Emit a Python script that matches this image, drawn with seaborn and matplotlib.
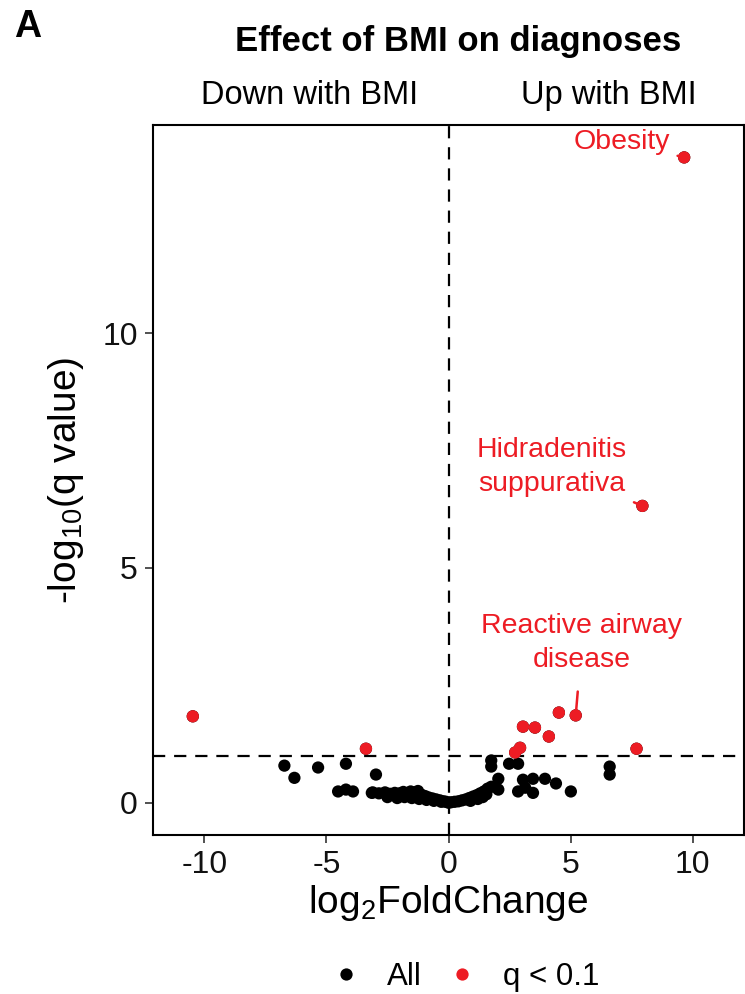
import numpy as np
import pandas as pd
import seaborn as sns
import matplotlib
matplotlib.use("Agg")
import matplotlib.pyplot as plt


# values
# non-significant diagnoses (log2FoldChange, -log10 q)
ns_x = [-6.72, -6.31, -5.34, -4.20, -2.97, -4.52, -4.20, -3.91, -3.14,
        -3.10, -2.85, -2.60, -2.40, -2.20, -2.00, -1.85, -1.70, -1.55, -1.40,
        -1.25, -1.10, -0.95, -0.80, -0.65, -0.50, -0.35, -0.20, -0.10,
        -2.50, -2.10, -1.80, -1.50, -1.20, -0.90, -0.60, -0.30, 0.00,
        0.10, 0.25, 0.40, 0.55, 0.70, 0.85, 1.00, 1.15, 1.30, 1.45, 1.60,
        0.90, 1.20, 1.40, 1.55,
        1.75, 2.04, 2.04, 1.75, 1.75, 2.48, 2.85, 2.85, 3.05, 3.14, 3.46,
        3.46, 3.95, 4.40, 5.01, 6.60, 6.60]
ns_y = [0.79, 0.53, 0.75, 0.83, 0.60, 0.24, 0.28, 0.24, 0.21,
        0.22, 0.20, 0.22, 0.19, 0.21, 0.20, 0.23, 0.18, 0.24, 0.22,
        0.25, 0.17, 0.14, 0.11, 0.09, 0.07, 0.05, 0.03, 0.02,
        0.12, 0.10, 0.12, 0.10, 0.08, 0.06, 0.04, 0.02, 0.00,
        0.01, 0.02, 0.03, 0.05, 0.07, 0.10, 0.13, 0.16, 0.20, 0.24, 0.30,
        0.04, 0.08, 0.12, 0.18,
        0.34, 0.28, 0.51, 0.77, 0.90, 0.83, 0.83, 0.24, 0.49, 0.32, 0.51,
        0.21, 0.51, 0.41, 0.24, 0.77, 0.60]

# significant diagnoses (q < 0.1)
sig_x = [9.65, 7.94, 5.21, 4.52, 4.11, 3.54, 3.05, 2.93, 2.73, 7.70, -10.47, -3.38]
sig_y = [13.74, 6.32, 1.86, 1.92, 1.41, 1.60, 1.62, 1.17, 1.07, 1.15, 1.84, 1.15]

# labelled diagnoses
label_names = ["Obesity", "Hidradenitis\nsuppurativa", "Reactive airway\ndisease"]
label_x = [9.65, 7.94, 5.21]
label_y = [13.74, 6.32, 1.86]

q_cut = 0.1
red = "#ED1C24"

df = pd.concat([
    pd.DataFrame({"lfc": ns_x + sig_x, "q": ns_y + sig_y, "group": "All"}),
    pd.DataFrame({"lfc": sig_x, "q": sig_y, "group": "q < 0.1"}),
], ignore_index=True)

sns.set_style("ticks")
plt.rcParams["font.family"] = ["Liberation Sans", "DejaVu Sans"]
plt.rcParams["mathtext.fontset"] = "custom"
plt.rcParams["mathtext.rm"] = "Liberation Sans"
plt.rcParams["text.color"] = "black"
plt.rcParams["axes.labelcolor"] = "black"

fig = plt.figure(figsize=(7.45, 9.94), dpi=100)
ax = fig.add_axes([153 / 745, 1 - 835 / 994, 591 / 745, 710 / 994])

# threshold lines
ax.axhline(-np.log10(q_cut), color="black", lw=1.6, ls=(0, (5.5, 4)), zorder=1)
ax.axvline(0, color="black", lw=1.6, ls=(0, (5.5, 4)), zorder=1)

sns.scatterplot(data=df, x="lfc", y="q", hue="group", hue_order=["All", "q < 0.1"],
                palette=["black", red], s=78, linewidth=0, ax=ax, zorder=3)

ax.set_xlim(-12.1, 12.1)
ax.set_ylim(-0.687, 14.43)
ax.set_xticks([-10, -5, 0, 5, 10])
ax.set_yticks([0, 5, 10])
ax.set_xticklabels(["-10", "-5", "0", "5", "10"])
ax.tick_params(labelsize=23, length=6, width=1.2, color="#333333",
               labelcolor="#111111", pad=5)
for sp in ax.spines.values():
    sp.set_visible(True)
    sp.set_linewidth(1.5)
    sp.set_color("black")

ax.set_xlabel(r"log$_\mathregular{2}$FoldChange", fontsize=28, labelpad=2)
ax.set_ylabel(r"-log$_\mathregular{10}$(q value)", fontsize=28, labelpad=12)

# labels for the top hits
text_pos = [(9.08, 14.06, "right"), (4.24, 7.14, "center"), (5.46, 3.40, "center")]
shrinks = [3, 3, 11]
for name, px, py, (tx, ty, ha), sh in zip(label_names, label_x, label_y, text_pos, shrinks):
    ax.annotate(name, xy=(px, py), xytext=(tx, ty), ha=ha, va="center",
                color=red, fontsize=20.5, linespacing=1.4,
                arrowprops=dict(arrowstyle="-", color=red, lw=1.8,
                                shrinkA=sh, shrinkB=0))

# direction labels above the panel
ax.text(-5.7, 1.042, "Down with BMI", transform=ax.get_xaxis_transform(),
        ha="center", va="center", fontsize=23.5, clip_on=False)
ax.text(6.56, 1.042, "Up with BMI", transform=ax.get_xaxis_transform(),
        ha="center", va="center", fontsize=23.5, clip_on=False)

fig.text(458 / 745, 1 - 42 / 994, "Effect of BMI on diagnoses", ha="center",
         va="center", fontsize=25, fontweight="bold")
fig.text(14 / 745, 1 - 27 / 994, "A", ha="left", va="center", fontsize=27,
         fontweight="bold")

sns.move_legend(ax, "center", bbox_to_anchor=(465 / 745, 1 - 977 / 994),
                bbox_transform=fig.transFigure, ncol=2, frameon=False, title=None,
                fontsize=22.5, handlelength=1.0, handletextpad=0.8,
                columnspacing=0.8, borderpad=0, markerscale=1.0)

fig.savefig("out.png", dpi=100)
